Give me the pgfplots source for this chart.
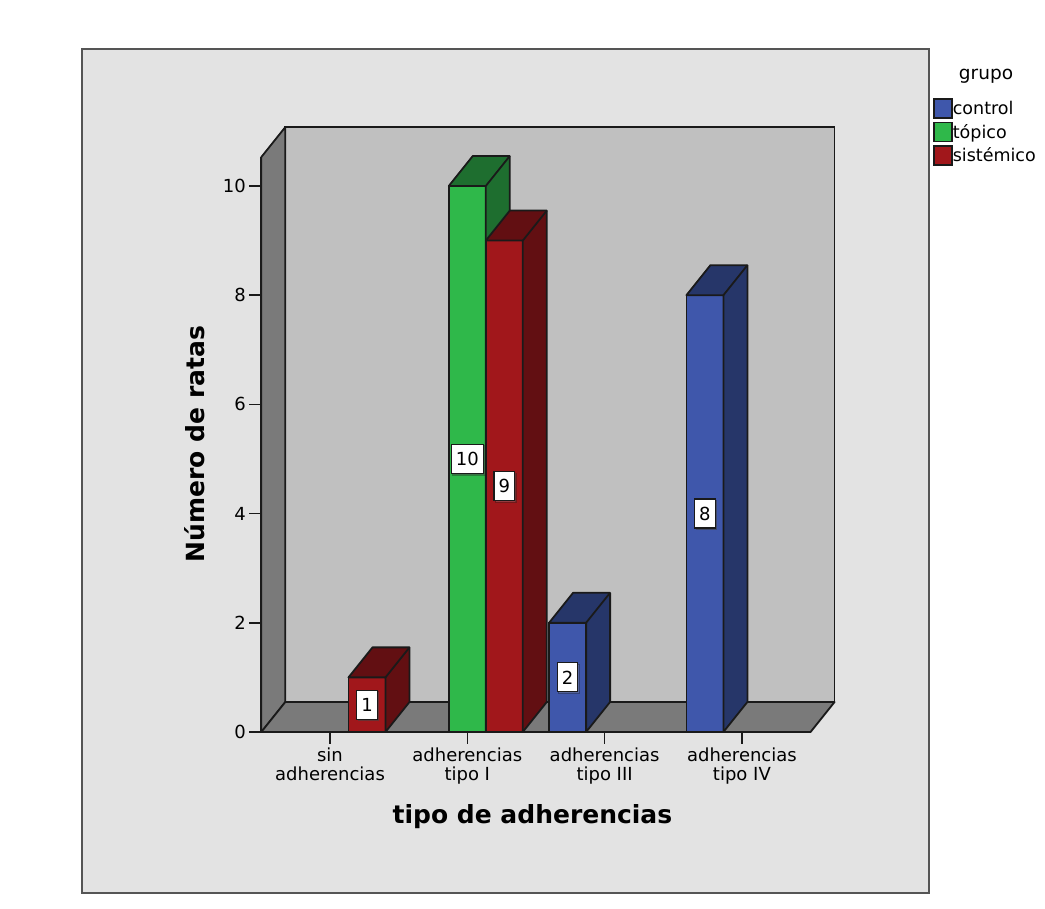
\documentclass[border=0pt]{standalone}
\usepackage{fontspec}
\setmainfont{DejaVu Sans}
\usepackage{pgfplots}
\pgfplotsset{compat=1.18}
\usepackage{pgfplotstable}
\usetikzlibrary{shadows}

\definecolor{panel}{HTML}{E3E3E3}
\definecolor{framegray}{HTML}{555555}
\definecolor{wallback}{HTML}{C0C0C0}
\definecolor{wallside}{HTML}{7A7A7A}
\definecolor{edge}{HTML}{1A1A1A}
\definecolor{ctrlF}{HTML}{3F57AB}
\definecolor{ctrlD}{HTML}{263669}
\definecolor{topiF}{HTML}{2FB84A}
\definecolor{topiD}{HTML}{1E6E2F}
\definecolor{sistF}{HTML}{A1171B}
\definecolor{sistD}{HTML}{620F12}

% number of rats per group; x = category index (0 sin, 1 tipo I, 2 tipo III, 3 tipo IV)
\pgfplotstableread{
x v
2 2
3 8
}\control
\pgfplotstableread{
x v
1 10
}\topico
\pgfplotstableread{
x v
0 1
1 9
}\sistemico

% geometry of the pseudo-3D bars
\newdimen\yunit \yunit=54.6pt
\newdimen\barh
\def\hw{18.5pt}
\def\dx{24pt}
\def\dy{30pt}
\pgfdeclareplotmark{nomark}{}

\tikzset{valbox/.style={draw=edge, fill=white, line width=1.2pt, inner xsep=4.5pt, inner ysep=0pt,
  minimum height=29pt, font=\fontsize{18}{20}\selectfont,
  drop shadow={shadow xshift=1.5pt, shadow yshift=-1.5pt, opacity=0.35}}}

\pgfplotsset{
  front bar/.style n args={2}{ybar, bar width=37pt, bar shift=#1, fill=#2, draw=edge, line width=1.8pt,
    legend image code/.code={\filldraw[##1, line width=1.5pt] (0pt,-9.5pt) rectangle (18pt,9.5pt);}},
  depth bar/.style n args={2}{scatter, only marks, mark=nomark, forget plot,
    point meta=y, point meta min=0, point meta max=11,
    visualization depends on={rawy \as \barval},
    scatter/@pre marker code/.code={%
      \barh=\barval\yunit
      \filldraw[fill=#2, draw=edge, line width=1.8pt, line join=round]
        (#1-\hw,0pt) -- ++(\dx,\dy) -- ++(37pt,0pt) -- ++(0pt,-\barh) -- ++(-\dx,-\dy)
        -- ++(0pt,\barh) -- cycle;
      \draw[edge, line width=1.8pt, line join=round] (#1+\hw,0pt) -- ++(\dx,\dy);
      \node[valbox] at (#1,-0.5*\barh) {\pgfmathprintnumber{\barval}};
    },
    scatter/@post marker code/.code={},
  },
}

\begin{document}
\begin{tikzpicture}
\useasboundingbox (-330pt,-177pt) rectangle (715pt,732pt);
\fill[white] (-330pt,-177pt) rectangle (715pt,732pt);
\filldraw[fill=panel, draw=framegray, line width=1.6pt] (-248pt,-161pt) rectangle (599pt,683pt);
\node[anchor=base, font=\fontsize{18.5}{20}\selectfont] at (656pt,652pt) {grupo};
\begin{axis}[
  anchor=origin, at={(0pt,0pt)},
  x=137.3pt, y=54.6pt,
  xmin=-0.5, xmax=3.5, ymin=0, ymax=10.53,
  clip=false,
  clip marker paths=true,
  axis lines*=left,
  axis line style={draw=edge, line width=1.8pt},
  axis on top,
  tick align=outside,
  major tick length=12pt,
  tick style={draw=edge, line width=1.5pt},
  xtick={0,1,2,3},
  xticklabels={{sin\\adherencias},{adherencias\\tipo I},{adherencias\\tipo III},{adherencias\\tipo IV}},
  xticklabel style={align=center, font=\fontsize{18}{19.5}\selectfont},
  ytick={0,2,...,10},
  yticklabel style={font=\fontsize{18}{20}\selectfont},
  /pgf/number format/assume math mode=true,
  xlabel={tipo de adherencias},
  ylabel={Número de ratas},
  xlabel style={font=\bfseries\fontsize{25}{30}\selectfont, at={(axis description cs:0.4936,-0.148)}, anchor=center},
  ylabel style={font=\bfseries\fontsize{25}{30}\selectfont, at={(axis description cs:-0.1216,0.5009)}, anchor=center},
  legend style={at={(axis description cs:1.2232,1.1026)}, anchor=north west, draw=none, fill=none,
    inner sep=0pt, row sep=3pt, font=\fontsize{17.5}{20}\selectfont, nodes={inner sep=0pt},
    /tikz/every even column/.style={column sep=6pt}},
  legend cell align=left,
]
% back wall, left wall and floor
\filldraw[fill=wallback, draw=edge, line width=1.8pt]
  ([shift={(\dx,\dy)}]axis cs:-0.5,0) rectangle ([shift={(\dx,\dy)}]axis cs:3.5,10.53);
\filldraw[fill=wallside, draw=edge, line width=1.8pt, line join=round]
  (axis cs:-0.5,0) -- (axis cs:-0.5,10.53) -- ++(\dx,\dy) -- ([shift={(\dx,\dy)}]axis cs:-0.5,0) -- cycle;
\filldraw[fill=wallside, draw=edge, line width=1.8pt, line join=round]
  (axis cs:-0.5,0) -- (axis cs:3.5,0) -- ++(\dx,\dy) -- ([shift={(\dx,\dy)}]axis cs:-0.5,0) -- cycle;

\addplot[front bar={-37pt}{ctrlF}] table[x=x, y=v] {\control};
\addlegendentry{control}
\addplot[depth bar={-37pt}{ctrlD}] table[x=x, y=v] {\control};

\addplot[front bar={0pt}{topiF}] table[x=x, y=v] {\topico};
\addlegendentry{tópico}
\addplot[depth bar={0pt}{topiD}] table[x=x, y=v] {\topico};

\addplot[front bar={37pt}{sistF}] table[x=x, y=v] {\sistemico};
\addlegendentry{sistémico}
\addplot[depth bar={37pt}{sistD}] table[x=x, y=v] {\sistemico};
\end{axis}
\end{tikzpicture}
\end{document}
